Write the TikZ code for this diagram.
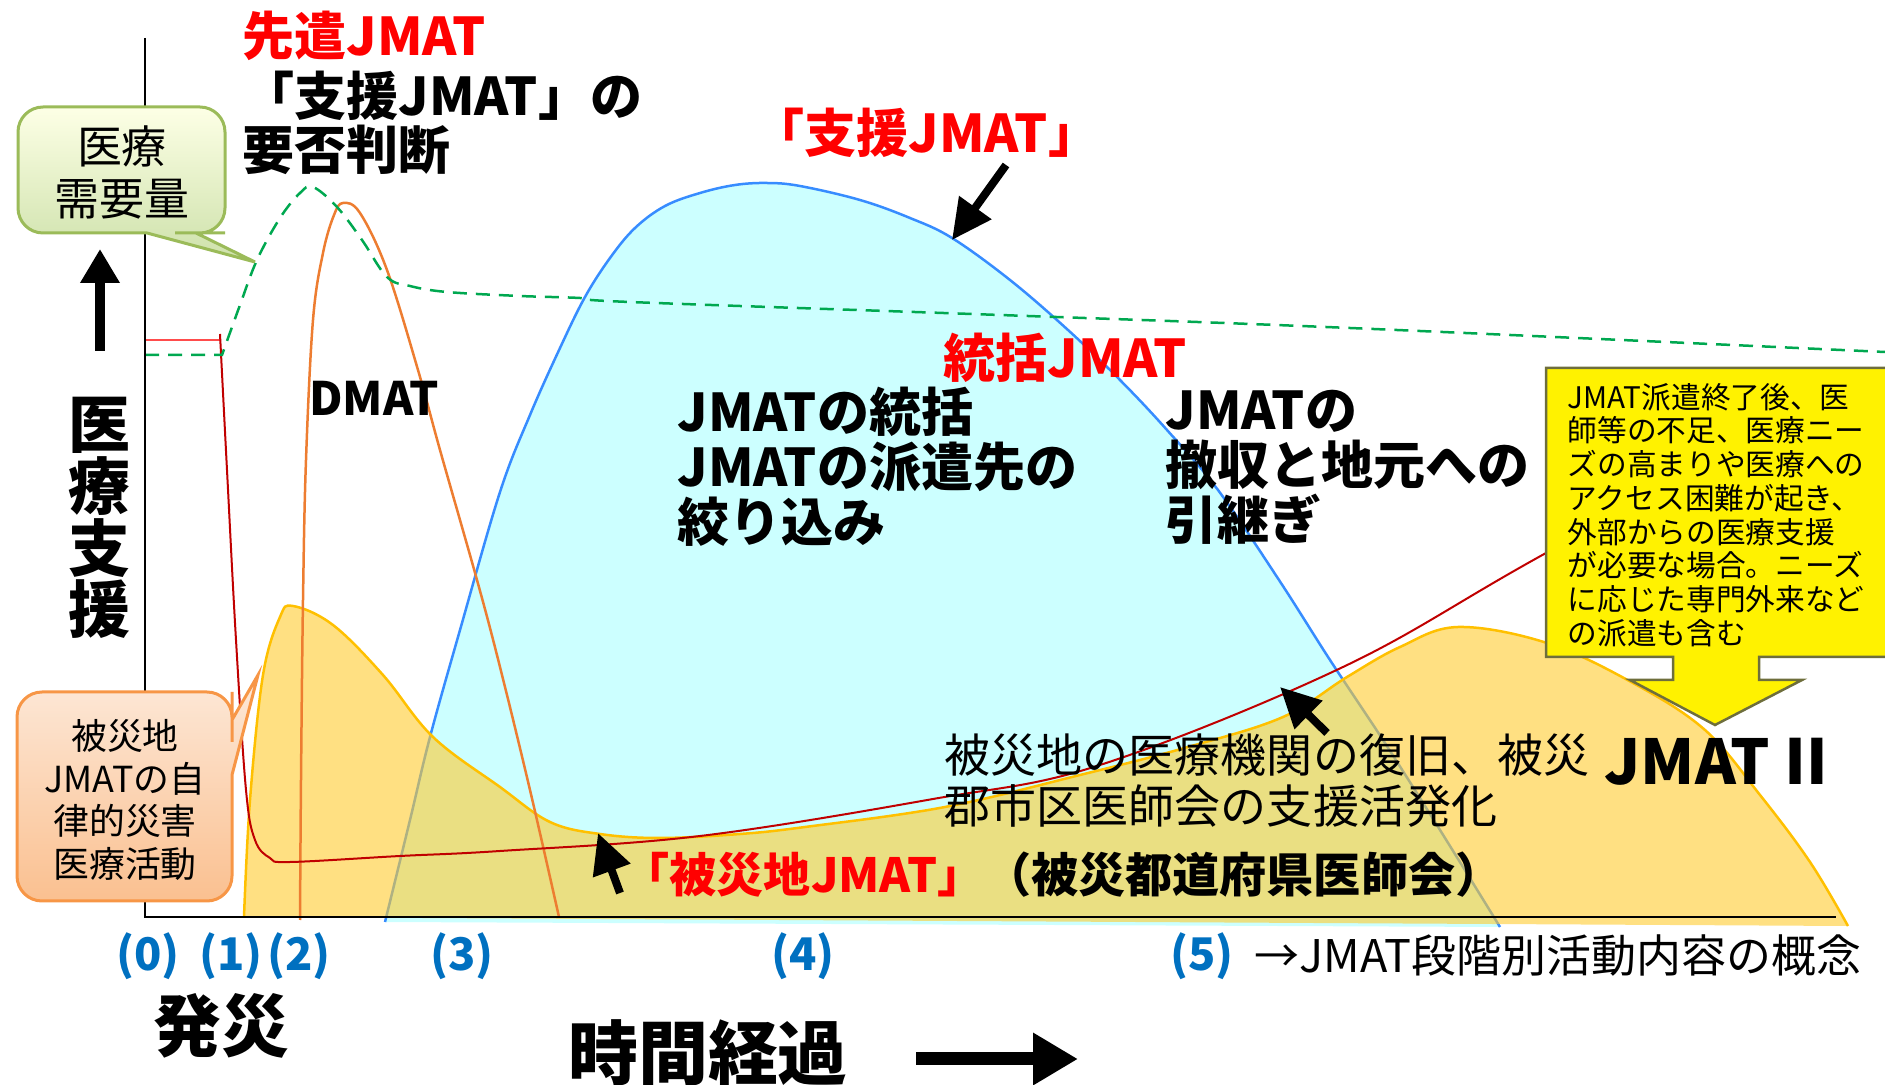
\documentclass[tikz,border=0pt]{standalone}
\usepackage{fontspec}
\setmainfont{Noto Sans CJK JP}
\usepackage{xcolor}
\usepackage{tikz}
\usetikzlibrary{arrows.meta,calc,positioning}

\definecolor{dmatorange}{RGB}{237,125,49}
\definecolor{shienblue}{RGB}{55,140,255}
\definecolor{shiencyan}{RGB}{204,255,255}
\definecolor{hisaigold}{RGB}{255,203,47}
\definecolor{hisaiedge}{RGB}{255,192,0}
\definecolor{demandgreen}{RGB}{0,168,80}
\definecolor{hisaired}{RGB}{192,0,0}
\definecolor{phaseblue}{RGB}{0,112,192}
\definecolor{greenedge}{RGB}{155,187,89}
\definecolor{orangeedge}{RGB}{247,150,70}
\definecolor{noteedge}{RGB}{110,110,60}

% curves (pixel grid, y downwards)
\newcommand{\shiencurve}{plot[smooth,tension=0.6] coordinates {(385,922) (410,820) (430,737) (460,630) (500,492) (530,415) (560,348) (585,297) (610,258) (635,228) (665,206) (700,193) (735,185) (767,183) (800,186) (860,200) (910,218) (952,238) (1010,280) (1068,330) (1120,380) (1167,430) (1218,490) (1279,580) (1330,660) (1383,740) (1440,830) (1500,927)}}
\newcommand{\hisaicurve}{plot[smooth,tension=0.6] coordinates {(244,917) (250,800) (263,675) (280,617) (293,606) (333,625) (383,675) (433,737) (500,787) (550,822) (600,834) (660,838) (740,834) (805,827) (945,807) (1080,775) (1188,747) (1283,717) (1347,677) (1400,647) (1458,627) (1547,643) (1633,683) (1705,730) (1760,795) (1810,862) (1848,926)}}

\tikzset{
  head/.style={inner sep=0pt, font=\fontsize{14.8pt}{15.6pt}\selectfont\bfseries},
  body/.style={inner sep=0pt, align=left, font=\fontsize{14.8pt}{15.6pt}\selectfont\bfseries},
  note/.style={inner sep=0pt, align=left, font=\fontsize{13.1pt}{14.5pt}\selectfont},
  phase/.style={inner sep=0pt, text=phaseblue, font=\fontsize{12.8pt}{14pt}\selectfont\bfseries},
  pointer/.style={line width=0.8mm, -{Triangle[length=4mm,width=3.8mm]}},
  bigarrow/.style={-{Triangle[length=#1,width=1.1*#1]}},
}

\begin{document}
\begin{tikzpicture}[x=0.1mm,y=-0.1mm]
\useasboundingbox (0,0) rectangle (1885,1085);

% support JMAT and disaster-area JMAT
\fill[shiencyan] \shiencurve -- cycle;
\draw[shienblue, line width=0.25mm] \shiencurve;
\fill[hisaigold, fill opacity=0.6] \hisaicurve -- cycle;
\draw[hisaiedge, line width=0.25mm] \hisaicurve;

% DMAT
\draw[dmatorange, line width=0.25mm] plot[smooth,tension=0.6] coordinates {(300,920) (301,780) (303,600) (306,460) (313,320) (323,253) (334,215) (343,203) (360,213) (387,270) (418,370) (440,450) (477,580) (500,667) (530,790) (559,917)};

% local JMAT line
\draw[red!70, line width=0.2mm] (145,340) -- (220,340);
\draw[hisaired, line width=0.2mm] plot[smooth,tension=0.6] coordinates {(220,334) (227,470) (236,640) (246,790) (255,840) (270,858) (290,862) (400,856) (500,851) (700,836) (933,799) (1100,765) (1343,667) (1546,553) (1885,368)};

% medical demand
\draw[demandgreen, line width=0.25mm, dash pattern=on 1.4mm off 0.9mm] (145,355) -- (222,355) -- plot[smooth,tension=0.6] coordinates {(222,355) (240,305) (257,260) (280,218) (300,193) (313,187) (337,207) (362,240) (387,277) (410,286) (447,292) (520,296) (580,298) (630,302) (1000,315) (1350,328) (1885,352)};

% axes
\coordinate (ytop) at (145,38);
\coordinate (orig) at (145,917);
\coordinate (xend) at (1836,917);
\draw[line width=0.22mm] (ytop) -- (orig) -- (xend);

% JMAT II note
\draw[noteedge, line width=0.25mm, fill=yellow] (1546,368) -- (1895,368) -- (1895,657) -- (1759,657) -- (1759,680) -- (1802,680) -- (1715,725) -- (1630,680) -- (1673,680) -- (1673,657) -- (1546,657) -- cycle;
\node[inner sep=0pt, align=left, anchor=west, font=\fontsize{8.45pt}{9.6pt}\selectfont] (jmat2note) at (1567,515) {JMAT派遣終了後、医\\師等の不足、医療ニー\\ズの高まりや医療への\\アクセス困難が起き、\\外部からの医療支援\\が必要な場合。ニーズ\\に応じた専門外来など\\の派遣も含む};

% callouts
\shade[draw=greenedge, line width=0.3mm, top color=green!8!yellow!10, bottom color={rgb,255:red,205;green,225;blue,170}] (120,107) [rounded corners=2.5mm] -- (225,107) -- (225,233) -- (200,233) [sharp corners] -- (196,233) -- (255,262) -- (147,233) -- (130,233) [rounded corners=2.5mm] -- (18,233) -- (18,107) -- cycle;
\node[inner sep=0pt, align=center, font=\fontsize{12.8pt}{14.8pt}\selectfont] (juyou) at (122,172) {医療\\需要量};

\shade[draw=orangeedge, line width=0.3mm, top color={rgb,255:red,253;green,233;blue,217}, bottom color={rgb,255:red,250;green,192;blue,144}] (125,692) [rounded corners=2.5mm] -- (232,692) -- (232,717) [sharp corners] -- (232,720) -- (258,675) -- (232,775) -- (232,800) [rounded corners=2.5mm] -- (232,901) -- (17,901) -- (17,692) -- cycle;
\node[inner sep=0pt, align=center, font=\fontsize{10.2pt}{12.2pt}\selectfont] (jiritsu) at (125,800) {被災地\\JMATの自\\律的災害\\医療活動};

% vertical axis title
\node[inner sep=0pt, align=center, font=\fontsize{17.6pt}{17.6pt}\selectfont\bfseries] (iryoshien) at (99,518) {医\\療\\支\\援};
\coordinate (upS) at (100,351);
\coordinate (upE) at (100,249);
\draw[line width=1mm, bigarrow=3.4mm] (upS) -- (upE);

% labels
\node[head, anchor=west, text=red] (sentai) at (242,36) {先遣JMAT};
\node[head, anchor=west] (shienq) at (242,96) {「支援JMAT」の};
\node[head, anchor=west] (yohi) at (242,150) {要否判断};
\node[head, anchor=west, text=red] (shienlbl) at (752,133) {「支援JMAT」};
\node[inner sep=0pt, font=\fontsize{13.1pt}{14pt}\selectfont\bfseries] (dmat) at (374,398) {DMAT};
\node[head, anchor=west, text=red] (toukatsu) at (943,358) {統括JMAT};
\node[body, anchor=west] (toukatsutxt) at (677,467) {JMATの統括\\JMATの派遣先の\\絞り込み};
\node[body, anchor=west] (tesshu) at (1165,467) {JMATの\\撤収と地元への\\引継ぎ};
\node[inner sep=0pt, anchor=west, font=\fontsize{17.6pt}{18pt}\selectfont\bfseries] (jmat2) at (1604,762) {JMAT\hspace{0.08em}Ⅱ};
\node[note, anchor=west] (fukkyu) at (944,781) {被災地の医療機関の復旧、被災\\郡市区医師会の支援活発化};
\node[inner sep=0pt, anchor=west, font=\fontsize{13.4pt}{14pt}\selectfont\bfseries] (hisaijmat) at (622,875) {\textcolor{red}{「被災地JMAT」}（被災都道府県医師会）};

% pointer arrows
\coordinate (shienS) at (1006,165);
\coordinate (shienE) at (952,240);
\draw[pointer] (shienS) -- (shienE);
\coordinate (hisaiS) at (620,893);
\coordinate (hisaiE) at (598,833);
\draw[pointer] (hisaiS) -- (hisaiE);
\coordinate (fukkyuS) at (1327,733);
\coordinate (fukkyuE) at (1280,687);
\draw[pointer] (fukkyuS) -- (fukkyuE);

% phases
\node[phase] (p0) at (148,956) {(0)};
\node[phase] (p1) at (231,956) {(1)};
\node[phase] (p2) at (299,956) {(2)};
\node[phase] (p3) at (462,956) {(3)};
\node[phase] (p4) at (803,956) {(4)};
\node[phase] (p5) at (1202,956) {(5)};
\node[inner sep=0pt, anchor=west, font=\fontsize{12.8pt}{14pt}\selectfont] (gainen) at (1254,956) {→JMAT段階別活動内容の概念};

\node[inner sep=0pt, font=\fontsize{19.3pt}{20pt}\selectfont\bfseries] (hassai) at (221,1026) {発災};
\node[inner sep=0pt, font=\fontsize{19.9pt}{20pt}\selectfont\bfseries] (keika) at (708,1053) {時間経過};
\coordinate (keikaS) at (916,1059);
\coordinate (keikaE) at (1078,1059);
\draw[line width=1.3mm, bigarrow=4.5mm] (keikaS) -- (keikaE);
\end{tikzpicture}
\end{document}
